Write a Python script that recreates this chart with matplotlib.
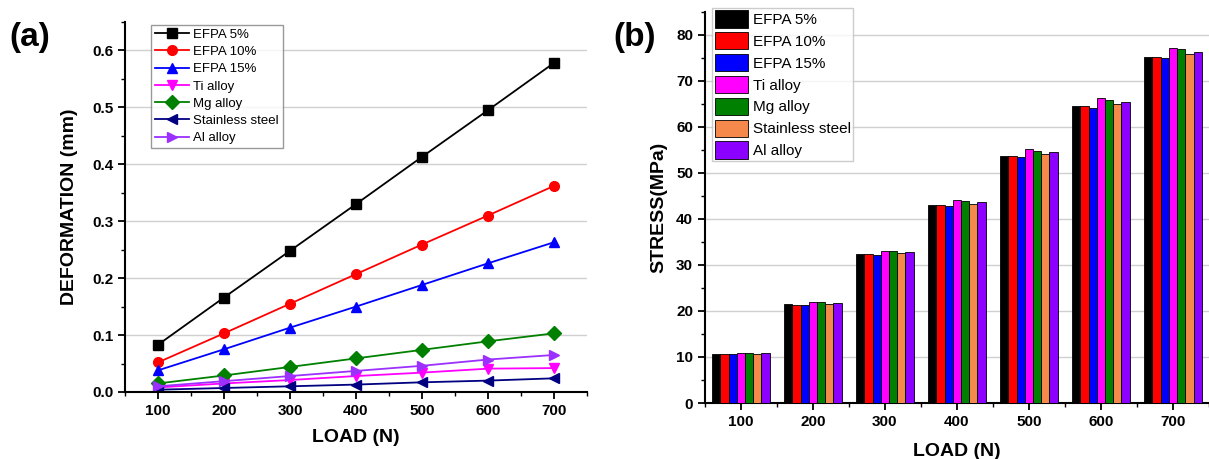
import matplotlib.pyplot as plt
import numpy as np

plt.rcParams['font.family'] = ['Liberation Sans', 'DejaVu Sans']

loads = [100, 200, 300, 400, 500, 600, 700]
names = ['EFPA 5%', 'EFPA 10%', 'EFPA 15%', 'Ti alloy', 'Mg alloy', 'Stainless steel', 'Al alloy']

# deformation (mm)
d_efpa5 = [0.083, 0.166, 0.248, 0.330, 0.413, 0.495, 0.578]
d_efpa10 = [0.052, 0.103, 0.155, 0.207, 0.259, 0.310, 0.362]
d_efpa15 = [0.038, 0.075, 0.113, 0.150, 0.188, 0.226, 0.263]
d_ti = [0.008, 0.015, 0.021, 0.028, 0.034, 0.041, 0.042]
d_mg = [0.015, 0.029, 0.044, 0.059, 0.074, 0.089, 0.103]
d_ss = [0.004, 0.007, 0.010, 0.013, 0.017, 0.020, 0.024]
d_al = [0.010, 0.019, 0.028, 0.037, 0.046, 0.057, 0.065]

# stress (MPa)
s_efpa5 = [10.7, 21.5, 32.3, 43.0, 53.7, 64.5, 75.3]
s_efpa10 = [10.6, 21.4, 32.3, 43.0, 53.7, 64.5, 75.3]
s_efpa15 = [10.6, 21.3, 32.1, 42.8, 53.5, 64.2, 75.0]
s_ti = [10.9, 22.0, 33.1, 44.2, 55.1, 66.2, 77.2]
s_mg = [10.9, 21.9, 33.0, 44.0, 54.8, 65.9, 77.0]
s_ss = [10.7, 21.6, 32.6, 43.3, 54.2, 65.0, 75.9]
s_al = [10.9, 21.8, 32.8, 43.6, 54.5, 65.4, 76.3]

line_colors = ['black', 'red', 'blue', 'magenta', 'green', 'navy', '#9b30ff']
markers = ['s', 'o', '^', 'v', 'D', '<', '>']
bar_colors = ['black', 'red', 'blue', '#ff00ff', 'green', '#f4894b', '#8b00ff']

fig = plt.figure(figsize=(12.09, 4.59), dpi=100)

# ---- (a) deformation
ax1 = fig.add_axes([0.1034, 0.146, 0.382, 0.806])
defs = [d_efpa5, d_efpa10, d_efpa15, d_ti, d_mg, d_ss, d_al]
for i in range(7):
    ax1.plot(loads, defs[i], color=line_colors[i], marker=markers[i], markersize=7,
             lw=1.3, label=names[i])
ax1.set_xlim(50, 750)
ax1.set_ylim(0, 0.65)
ax1.set_xticks(loads)
ax1.set_xticks(np.arange(50, 751, 50), minor=True)
ax1.set_yticks(np.arange(0, 0.61, 0.1))
ax1.set_yticks(np.arange(0, 0.651, 0.05), minor=True)
ax1.set_yticklabels(['%.1f' % v for v in np.arange(0, 0.61, 0.1)])
ax1.grid(axis='y', color='#d0d0d0', lw=1)
ax1.set_axisbelow(True)
ax1.set_xlabel('LOAD (N)', fontsize=14, fontweight='bold', labelpad=8)
ax1.set_ylabel('DEFORMATION (mm)', fontsize=14, fontweight='bold', labelpad=10)
leg1 = ax1.legend(loc='upper left', bbox_to_anchor=(0.05, 1.0), fontsize=9.5, frameon=True,
                  fancybox=False, edgecolor='gray', handlelength=2.6, labelspacing=0.38,
                  borderpad=0.3, handletextpad=0.3, borderaxespad=0.2)
leg1.get_frame().set_linewidth(1.0)

# ---- (b) stress
ax2 = fig.add_axes([0.583, 0.122, 0.417, 0.852])
stresses = [s_efpa5, s_efpa10, s_efpa15, s_ti, s_mg, s_ss, s_al]
x = np.arange(len(loads))
w = 0.114
for i in range(7):
    ax2.bar(x + (i - 3) * w, stresses[i], width=w, color=bar_colors[i],
            edgecolor='black', lw=0.6, label=names[i], zorder=3)
ax2.set_xlim(-0.49, 6.44)
ax2.set_ylim(0, 85)
ax2.set_xticks(x)
ax2.set_xticklabels([str(v) for v in loads])
ax2.set_xticks(np.arange(-0.5, 6.6, 1), minor=True)
ax2.set_yticks(np.arange(0, 81, 10))
ax2.set_yticks(np.arange(0, 86, 5), minor=True)
ax2.grid(axis='y', color='#d0d0d0', lw=1, zorder=0)
ax2.set_axisbelow(True)
ax2.set_xlabel('LOAD (N)', fontsize=14, fontweight='bold', labelpad=10)
ax2.set_ylabel('STRESS(MPa)', fontsize=14, fontweight='bold', labelpad=6)
leg2 = ax2.legend(loc='upper left', bbox_to_anchor=(0.012, 1.015), fontsize=11, frameon=True,
                  fancybox=False, edgecolor='#c0c0c0', handlelength=2.2, handleheight=1.4,
                  labelspacing=0.28, borderpad=0.15, handletextpad=0.3, borderaxespad=0.1)

for ax in (ax1, ax2):
    ax.spines['top'].set_visible(False)
    ax.spines['right'].set_visible(False)
    ax.spines['left'].set_linewidth(1.5)
    ax.spines['bottom'].set_linewidth(1.5)
    ax.tick_params(which='major', direction='out', length=5, width=1.3, labelsize=11)
    ax.tick_params(which='minor', direction='out', length=3, width=1.0)
    for lab in ax.get_xticklabels() + ax.get_yticklabels():
        lab.set_fontweight('bold')

fig.text(0.008, 0.9, '(a)', fontsize=24, fontweight='bold')
fig.text(0.507, 0.9, '(b)', fontsize=24, fontweight='bold')

fig.savefig('out.png', dpi=100)
